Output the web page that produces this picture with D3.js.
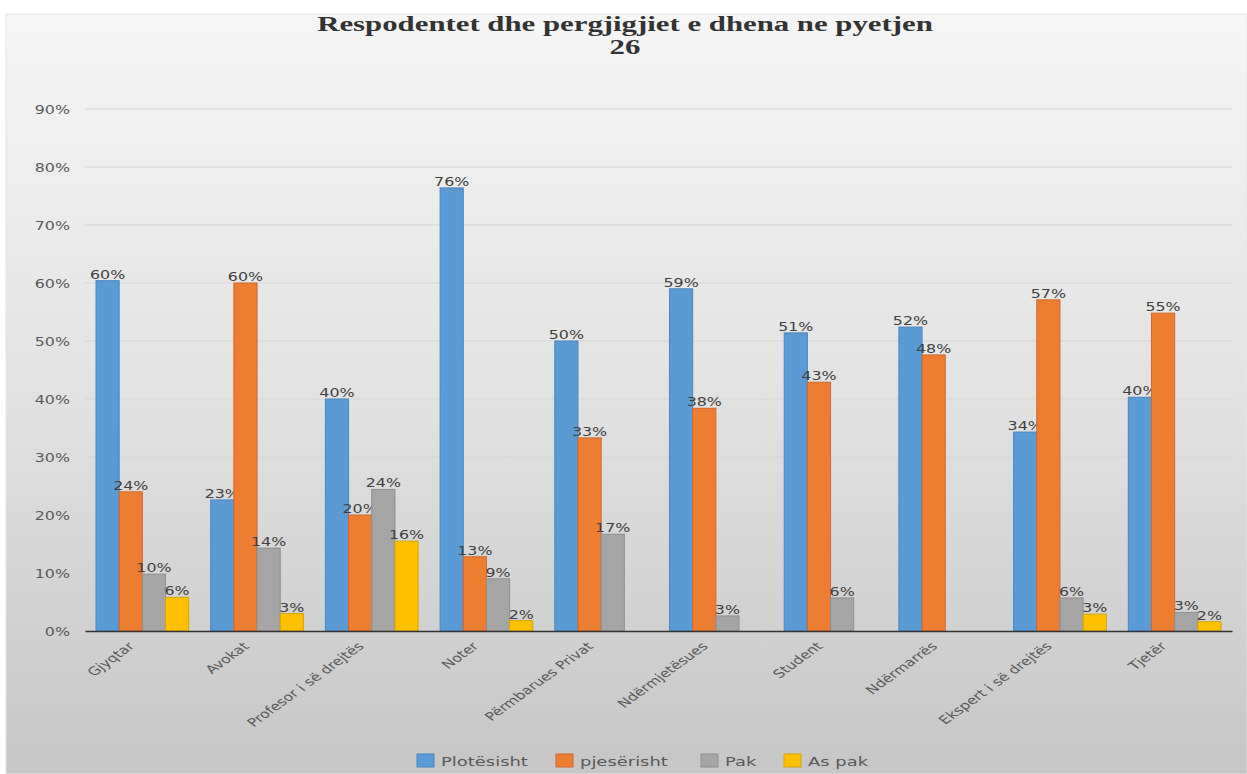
<!DOCTYPE html>
<html><head><meta charset="utf-8">
<script src="https://cdn.jsdelivr.net/npm/d3@7"></script>
<style>body{margin:0;background:#fff}svg{display:block}</style>
</head><body>
<svg id="c" width="1247" height="774"></svg>
<script>
const categories = ["Gjyqtar","Avokat","Profesor i së drejtës","Noter","Përmbarues Privat","Ndërmjetësues","Student","Ndërmarrës","Ekspert i së drejtës","Tjetër"];
const seriesNames = ["Plotësisht","pjesërisht","Pak","As pak"];
const plotesisht = [0.604,0.226,0.400,0.764,0.500,0.590,0.514,0.524,0.343,0.403];
const pjeserisht = [0.240,0.600,0.200,0.128,0.333,0.384,0.429,0.476,0.571,0.548];
const pak        = [0.098,0.143,0.244,0.090,0.167,0.026,0.057,0.000,0.057,0.032];
const asPak      = [0.058,0.030,0.155,0.018,0.000,0.000,0.000,0.000,0.029,0.016];
const yTicks = [0,0.1,0.2,0.3,0.4,0.5,0.6,0.7,0.8,0.9];
const colors = ["#5b9bd5","#ed7d31","#a5a5a5","#ffc000"];
const strokes = ["#4a86c0","#d0692a","#8f8f8f","#d9a300"];
const series = [plotesisht,pjeserisht,pak,asPak];
const SX = 1.38;
const FONT = "'DejaVu Sans',sans-serif";

const svg = d3.select("#c");
const defs = svg.append("defs");
const g0 = defs.append("linearGradient").attr("id","bg").attr("x1",0).attr("y1",0).attr("x2",0).attr("y2",1);
g0.append("stop").attr("offset","0%").attr("stop-color","#f6f6f6");
g0.append("stop").attr("offset","50%").attr("stop-color","#e2e2e2");
g0.append("stop").attr("offset","100%").attr("stop-color","#c6c6c6");
svg.append("rect").attr("x",6).attr("y",14).attr("width",1241).attr("height",760).attr("fill","url(#bg)").attr("stroke","#e6e6e6");

const L=85,R=1232,T=109,B=631;
const y = d3.scaleLinear().domain([0,0.9]).range([B,T]);
const x0 = d3.scaleBand().domain(categories).range([L,R]).paddingInner(0).paddingOuter(0);
const x1 = d3.scaleBand().domain(d3.range(4)).range([11,x0.bandwidth()-11]).padding(0);
const pct = d3.format(".0%");

// grid
svg.append("g").selectAll("line").data(yTicks.slice(1)).join("line")
  .attr("x1",L).attr("x2",R).attr("y1",d=>y(d)).attr("y2",d=>y(d))
  .attr("stroke","#d6d6d6").attr("stroke-width",1);

// y axis
const yAxis = d3.axisLeft(y).tickValues(yTicks).tickFormat(pct).tickSize(0).tickPadding(0);
const ya = svg.append("g").attr("transform",`translate(${L-15},0)`).call(yAxis);
ya.select(".domain").remove();
ya.selectAll("text").attr("font-family",FONT).attr("font-size",11.5).attr("fill","#595959")
  .attr("x",0).attr("dy","0.35em").attr("transform",`scale(${SX},1)`);

// bars
const groups = svg.append("g").selectAll("g").data(categories).join("g")
  .attr("transform",d=>`translate(${x0(d)},0)`);
groups.each(function(cat,ci){
  const gg = d3.select(this);
  series.forEach((s,si)=>{
    const v = s[ci];
    gg.append("rect").attr("x",x1(si)).attr("width",x1.bandwidth())
      .attr("y",y(v)).attr("height",Math.max(0,B-y(v)))
      .attr("fill",colors[si]).attr("stroke",strokes[si]).attr("stroke-width",1);
    if(v>0){
      gg.append("text").attr("transform",`translate(${x1(si)+x1.bandwidth()/2},${y(v)-2}) scale(${SX},1)`)
        .attr("text-anchor","middle").attr("font-family",FONT)
        .attr("font-size",11.5).attr("fill","#404040").text(pct(v));
    }
  });
});

// x axis
const xAxis = d3.axisBottom(x0).tickSize(0).tickPadding(0);
const xa = svg.append("g").attr("transform",`translate(0,${B})`).call(xAxis);
xa.select(".domain").attr("stroke","#333").attr("stroke-width",1.5);
xa.selectAll("text").attr("font-family",FONT).attr("font-size",11.5).attr("fill","#595959")
  .attr("text-anchor","end").attr("dy",0).attr("y",0)
  .attr("transform",`translate(-7,16) scale(${SX},1) rotate(-45)`);

// title
const title = svg.append("text").attr("transform","translate(625,0) scale(1.54,1)").attr("text-anchor","middle")
  .attr("font-family","'Liberation Serif','Times New Roman',serif").attr("font-weight","bold")
  .attr("font-size",20).attr("fill","#333");
title.append("tspan").attr("x",0).attr("y",31).text("Respodentet dhe pergjigjiet e dhena ne pyetjen");
title.append("tspan").attr("x",0).attr("y",54).text("26");

// legend
const legX = [417,556,701,784];
const leg = svg.append("g").selectAll("g").data(seriesNames).join("g")
  .attr("transform",(d,i)=>`translate(${legX[i]},754)`);
leg.append("rect").attr("width",17).attr("height",13).attr("fill",(d,i)=>colors[i]).attr("stroke",(d,i)=>strokes[i]);
leg.append("text").attr("transform",`translate(24,12) scale(${SX},1)`).attr("font-family",FONT).attr("font-size",13)
  .attr("fill","#595959").text(d=>d);
</script>
</body></html>
